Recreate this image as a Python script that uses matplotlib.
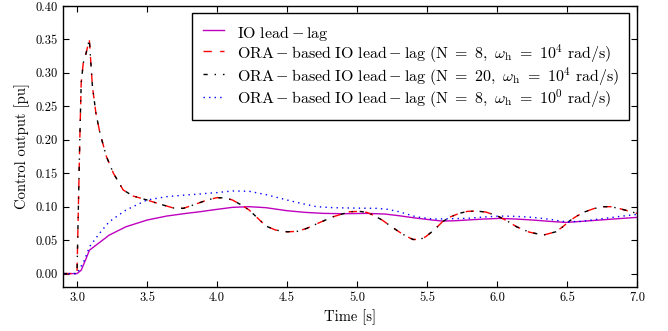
import matplotlib
matplotlib.use('Agg')
import matplotlib.pyplot as plt
from matplotlib.lines import Line2D
from matplotlib.legend_handler import HandlerLine2D
import numpy as np

plt.rcParams['font.family'] = 'serif'
plt.rcParams['font.serif'] = ['cmr10']
plt.rcParams['mathtext.fontset'] = 'cm'
plt.rcParams['axes.formatter.use_mathtext'] = True
plt.rcParams['axes.unicode_minus'] = False

# IO lead-lag (solid magenta)
t_io = [2.9, 3.0, 3.03, 3.065, 3.089, 3.136, 3.23, 3.35, 3.5, 3.64, 3.78, 3.88, 3.93,
        4.0, 4.11, 4.23, 4.35, 4.5, 4.63, 4.76, 4.9, 5.07, 5.2, 5.3, 5.42, 5.54, 5.61,
        5.7, 5.78, 5.9, 6.02, 6.14, 6.26, 6.38, 6.49, 6.6, 6.73, 6.86, 7.0]
v_io = [0.0, 0.0, 0.005, 0.0225, 0.035, 0.0425, 0.0575, 0.07, 0.08, 0.086, 0.09, 0.0925, 0.094,
        0.096, 0.099, 0.100, 0.0985, 0.094, 0.0915, 0.090, 0.0895, 0.090, 0.089, 0.0865, 0.083, 0.080, 0.0785,
        0.079, 0.080, 0.0815, 0.0825, 0.0815, 0.080, 0.078, 0.0765, 0.078, 0.080, 0.082, 0.084]

# ORA-based, N = 8, wh = 1e4 rad/s (red dashed)
t_n8 = [2.9, 3.0, 3.01, 3.02, 3.03, 3.045, 3.06, 3.088, 3.11, 3.135, 3.164, 3.21, 3.26,
        3.33, 3.40, 3.5, 3.59, 3.69, 3.76, 3.85, 3.93, 4.0, 4.06, 4.11, 4.17, 4.23, 4.29,
        4.35, 4.42, 4.5, 4.57, 4.64, 4.73, 4.83, 4.95, 5.02, 5.07, 5.12, 5.18, 5.24, 5.30,
        5.35, 5.40, 5.45, 5.49, 5.55, 5.61, 5.67, 5.73, 5.79, 5.85, 5.92, 6.0, 6.07, 6.14,
        6.23, 6.33, 6.42, 6.47, 6.52, 6.57, 6.63, 6.69, 6.75, 6.81, 6.87, 6.93, 7.0]
v_n8 = [0.0, 0.0, 0.1, 0.2, 0.285, 0.315, 0.325, 0.35, 0.28, 0.24, 0.21, 0.175, 0.15,
        0.125, 0.116, 0.11, 0.104, 0.098, 0.0975, 0.104, 0.11, 0.1135, 0.113, 0.11, 0.103, 0.095, 0.083,
        0.071, 0.065, 0.0625, 0.063, 0.0675, 0.076, 0.085, 0.0925, 0.093, 0.0915, 0.087, 0.08, 0.071, 0.0625,
        0.056, 0.051, 0.051, 0.055, 0.065, 0.0775, 0.085, 0.09, 0.093, 0.0935, 0.092, 0.0865, 0.079, 0.07,
        0.062, 0.0575, 0.0625, 0.07, 0.079, 0.086, 0.0925, 0.097, 0.1, 0.1, 0.0975, 0.094, 0.09]

# ORA-based, N = 20, wh = 1e4 rad/s (black dash-dot), practically on top of N = 8
t_n20 = list(t_n8)
v_n20 = list(v_n8)

# ORA-based, N = 8, wh = 1e0 rad/s (blue dotted)
t_lo = [2.9, 3.0, 3.053, 3.089, 3.16, 3.23, 3.35, 3.5, 3.64, 3.78, 3.88, 3.93, 4.0, 4.11,
        4.23, 4.35, 4.5, 4.6, 4.71, 4.83, 4.95, 5.14, 5.22, 5.30, 5.42, 5.54, 5.66, 5.78,
        5.9, 6.02, 6.14, 6.26, 6.38, 6.49, 6.6, 6.73, 6.86, 7.0]
v_lo = [0.0, 0.0, 0.02, 0.04, 0.06, 0.0775, 0.095, 0.11, 0.115, 0.1175, 0.119, 0.12, 0.121, 0.1235,
        0.123, 0.118, 0.11, 0.105, 0.100, 0.0985, 0.098, 0.0975, 0.096, 0.0925, 0.085, 0.0815, 0.082, 0.0825,
        0.0845, 0.086, 0.0855, 0.084, 0.081, 0.0775, 0.078, 0.0815, 0.085, 0.0885]

labels = [r'$\mathrm{IO\ lead-lag}$',
          r'$\mathrm{ORA-based\ IO\ lead-lag\ (N\ =\ 8,}\ \omega_\mathrm{h}\mathrm{\ =\ 10^4\ rad/s)}$',
          r'$\mathrm{ORA-based\ IO\ lead-lag\ (N\ =\ 20,}\ \omega_\mathrm{h}\mathrm{\ =\ 10^4\ rad/s)}$',
          r'$\mathrm{ORA-based\ IO\ lead-lag\ (N\ =\ 8,}\ \omega_\mathrm{h}\mathrm{\ =\ 10^0\ rad/s)}$']

fig = plt.figure(figsize=(6.68, 3.31), dpi=100)
ax = fig.add_axes([0.0943, 0.133, 0.8593, 0.849])

ax.plot(t_io, v_io, color='m', lw=1.0, label=labels[0])
ax.plot(t_n8, v_n8, color='r', ls='--', dashes=(6, 6), lw=1.0, label=labels[1])
ax.plot(t_n20, v_n20, color='k', ls='-.', dashes=(3, 5, 1, 5), lw=1.0, label=labels[2])
ax.plot(t_lo, v_lo, color='b', ls=':', dashes=(1, 3), lw=1.0, label=labels[3])

ax.set_xlim(2.9, 7.0)
ax.set_ylim(-0.02, 0.40)
ax.set_xticks(np.arange(3.0, 7.01, 0.5))
ax.set_yticks(np.arange(0.0, 0.401, 0.05))
ax.xaxis.set_major_formatter(matplotlib.ticker.FormatStrFormatter('%.1f'))
ax.yaxis.set_major_formatter(matplotlib.ticker.FormatStrFormatter('%.2f'))
ax.tick_params(direction='in', top=True, right=True, length=4.5, width=0.8, labelsize=9)
for s in ax.spines.values():
    s.set_linewidth(1.0)

ax.set_xlabel('Time [s]', fontsize=10.5)
ax.set_ylabel('Control output [pu]', fontsize=10.5)

leg = ax.legend(loc='upper right', bbox_to_anchor=(0.9855, 0.975), borderaxespad=0,
                fontsize=11.5, fancybox=False, framealpha=1, edgecolor='k',
                handlelength=1.4, handleheight=1.55, handletextpad=0.8,
                labelspacing=0.0, borderpad=0.6,
                handler_map={Line2D: HandlerLine2D(xpad=0.05)})
leg.get_frame().set_linewidth(1.0)

fig.savefig('out.png', dpi=100)
